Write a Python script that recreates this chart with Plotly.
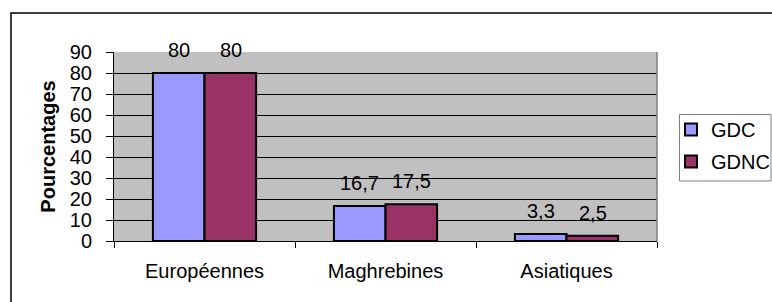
import plotly.graph_objects as go

categories = ["Européennes", "Maghrebines", "Asiatiques"]
gdc = [80, 16.7, 3.3]
gdnc = [80, 17.5, 2.5]
series_names = ["GDC", "GDNC"]
y_ticks = [0, 10, 20, 30, 40, 50, 60, 70, 80, 90]

FONT = "Liberation Sans, Arial, sans-serif"
fs = 20

def fmt(v):
    return f"{v:g}".replace(".", ",")

fig = go.Figure()
fig.add_trace(go.Bar(x=categories, y=gdc, name=series_names[0],
                     marker=dict(color="#9999FF", line=dict(color="black", width=2)),
                     legendgroup="a"))
fig.add_trace(go.Bar(x=categories, y=gdnc, name=series_names[1],
                     marker=dict(color="#993366", line=dict(color="black", width=2)),
                     legendgroup="b"))

annotations = []
for vals, shift in ((gdc, -26), (gdnc, 26)):
    for c, v in zip(categories, vals):
        annotations.append(dict(x=c, y=v, text=fmt(v), showarrow=False,
                                xshift=shift, yshift=23, yanchor="middle",
                                font=dict(family=FONT, size=fs, color="black")))

L, T, R, B = 114, 52, 657, 241
W, H = 772, 302
pw, ph = R - L, B - T

def px(x):
    return (x - L) / pw

def py(y):
    return (B - y) / ph

shapes = [
    # outer chart border
    dict(type="rect", xref="paper", yref="paper",
         x0=px(11), x1=px(W + 5), y0=py(H + 5), y1=py(13),
         line=dict(color="black", width=1.5), fillcolor="rgba(0,0,0,0)", layer="below"),
    # plot area right border
    dict(type="line", xref="paper", yref="paper", x0=1, x1=1, y0=0, y1=1,
         line=dict(color="#808080", width=1.5)),
    # legend frame
    dict(type="rect", xref="paper", yref="paper",
         x0=px(679.5), x1=px(771), y0=py(181), y1=py(114.5),
         line=dict(color="#808080", width=1), fillcolor="white", layer="below"),
]

fig.update_layout(
    width=W, height=H,
    margin=dict(l=L, r=W - R, t=T, b=H - B, pad=0, autoexpand=False),
    paper_bgcolor="white", plot_bgcolor="#C0C0C0",
    barmode="group", bargap=0.43, bargroupgap=0,
    separators=", ",
    font=dict(family=FONT, size=fs, color="black"),
    annotations=annotations, shapes=shapes,
    legend=dict(x=px(671), y=py(110), xanchor="left", yanchor="top",
                borderwidth=0, bgcolor="rgba(0,0,0,0)",
                font=dict(family=FONT, size=fs), tracegroupgap=3,
                itemwidth=30),
    showlegend=True,
)
fig.update_xaxes(type="category", showline=True, linecolor="black", linewidth=1,
                 ticks="outside", ticklen=6, tickcolor="black", tickson="boundaries",
                 showgrid=False, ticklabelstandoff=12,
                 tickfont=dict(family=FONT, size=fs))
fig.update_yaxes(range=[0, 90], tickvals=y_ticks, showline=True, linecolor="black",
                 linewidth=1, ticks="outside", ticklen=7, tickcolor="black",
                 showgrid=True, gridcolor="black", gridwidth=1, zeroline=False,
                 ticklabelstandoff=10,
                 tickfont=dict(family=FONT, size=fs),
                 title=dict(text="<b>Pourcentages</b>", font=dict(family=FONT, size=fs),
                            standoff=8))

fig.write_html("out.html", config={"displayModeBar": False},
               post_script="document.body.style.margin='0';")
